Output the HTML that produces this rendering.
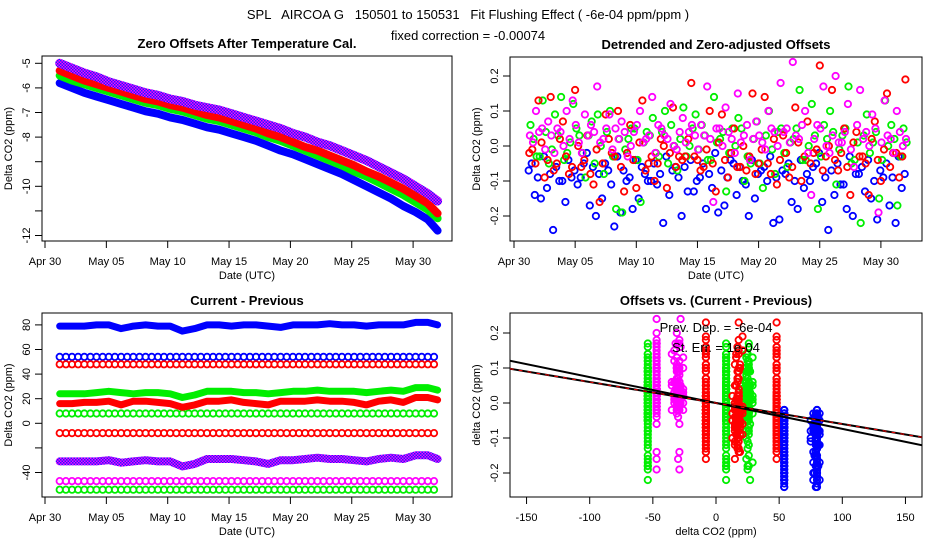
<!DOCTYPE html>
<html><head><meta charset="utf-8"><style>
body{margin:0;background:#fff}
svg{display:block;font-family:"Liberation Sans",sans-serif}
</style></head><body>
<svg id="c" width="936" height="540" viewBox="0 0 936 540">
<defs>
<pattern id="pp" width="3" height="3" patternUnits="userSpaceOnUse"><rect width="3" height="3" fill="#ff00ff"/><rect width="1.5" height="1.5" fill="#2020ff"/><rect x="1.5" y="1.5" width="1.5" height="1.5" fill="#2020ff"/></pattern>
<clipPath id="cp1"><rect x="42" y="56" width="410" height="185"/></clipPath>
<clipPath id="cp2"><rect x="510" y="57" width="412" height="184"/></clipPath>
<clipPath id="cp3"><rect x="42" y="313" width="410" height="184"/></clipPath>
<clipPath id="cp4"><rect x="510" y="313" width="412" height="184"/></clipPath>
</defs>
<text x="468" y="19" text-anchor="middle" font-size="13" style="white-space:pre">SPL   AIRCOA G   150501 to 150531   Fit Flushing Effect ( -6e-04 ppm/ppm )</text>
<text x="468" y="40" text-anchor="middle" font-size="13">fixed correction = -0.00074</text>
</svg>
<script>
// ---- data ----
const days1 = [1.2,2.2,3.2,4.2,5.2,6.2,7.2,8.2,9.2,10.2,11.2,12.2,13.2,14.2,15.2,16.2,17.2,18.2,19.2,20.2,21.2,22.2,23.2,24.2,25.2,26.2,27.2,28.2,29.2,30.2,31.2,32.0];
const offBlue = [-5.8,-6.0,-6.2,-6.35,-6.5,-6.65,-6.8,-6.95,-7.05,-7.2,-7.3,-7.45,-7.6,-7.7,-7.85,-8.0,-8.15,-8.35,-8.55,-8.7,-8.9,-9.1,-9.3,-9.5,-9.75,-10.0,-10.25,-10.5,-10.8,-11.05,-11.35,-11.8];
const offRed = [-5.3,-5.5,-5.7,-5.85,-6.0,-6.15,-6.3,-6.45,-6.55,-6.7,-6.8,-6.95,-7.1,-7.2,-7.35,-7.5,-7.65,-7.85,-8.0,-8.2,-8.4,-8.55,-8.75,-8.95,-9.15,-9.4,-9.6,-9.85,-10.1,-10.4,-10.7,-11.1];
const offGreen = [-5.5,-5.7,-5.85,-6.0,-6.15,-6.3,-6.45,-6.6,-6.7,-6.85,-6.95,-7.1,-7.25,-7.35,-7.5,-7.65,-7.8,-8.0,-8.15,-8.35,-8.55,-8.75,-8.95,-9.15,-9.4,-9.6,-9.85,-10.1,-10.35,-10.65,-10.95,-11.3];
const offPurple = [-5.0,-5.2,-5.4,-5.55,-5.75,-5.9,-6.05,-6.2,-6.3,-6.45,-6.55,-6.7,-6.8,-6.9,-7.05,-7.2,-7.35,-7.5,-7.65,-7.85,-8.0,-8.2,-8.35,-8.55,-8.75,-8.95,-9.2,-9.45,-9.7,-10.0,-10.3,-10.6];
const cpBlue = [79,79,79,80,80,77,79,80,79,79,75,77,80,80,79,80,80,79,78,80,80,80,81,80,80,79,80,80,80,82,82,80];
const cpGreen = [24,24,24,25,26,25,24,25,25,24,21,23,26,26,26,25,25,24,25,26,26,27,26,26,26,25,26,27,26,29,29,27];
const cpRed = [16,16,17,17,18,15,18,18,17,16,13,15,18,18,19,17,16,15,18,18,18,19,18,18,17,15,18,19,17,21,21,19];
const cpPurple = [-31,-31,-31,-31,-30,-32,-31,-30,-31,-31,-35,-33,-29,-29,-29,-30,-31,-33,-30,-30,-29,-28,-29,-29,-30,-31,-29,-28,-29,-26,-26,-29];
const cpConstValues = [54,48,8,-8,-47,-54];
const cpConstColors = ['blue','red','green','red','purple','green'];
const days2 = [];
for (let i=0;i<62;i++) days2.push(1.2+i*0.5);
const dtBlue = [-0.07,-0.14,-0.15,-0.12,-0.24,-0.10,-0.16,-0.09,-0.11,-0.05,-0.17,-0.20,-0.15,-0.07,-0.23,-0.19,-0.10,-0.18,-0.15,-0.08,-0.10,-0.11,-0.22,-0.14,-0.06,-0.20,-0.13,-0.13,-0.09,-0.18,-0.12,-0.19,-0.17,-0.04,-0.14,-0.10,-0.20,-0.15,-0.07,-0.10,-0.22,-0.21,-0.08,-0.16,-0.18,-0.12,-0.10,-0.05,-0.16,-0.24,-0.14,-0.11,-0.18,-0.20,-0.08,-0.13,-0.15,-0.21,-0.09,-0.17,-0.22,-0.12];
const dtRed = [-0.01,0.13,-0.09,0.14,-0.05,0.07,-0.08,0.16,-0.06,0.03,-0.11,-0.16,0.09,-0.02,0.10,-0.13,0.06,-0.12,0.13,-0.05,-0.10,0.02,-0.12,0.11,-0.03,-0.03,0.18,-0.04,-0.06,0.10,-0.13,0.09,-0.09,0.05,-0.06,-0.07,0.15,-0.05,0.14,-0.08,-0.11,0.03,-0.09,0.11,-0.10,0.07,-0.02,0.23,-0.03,0.16,-0.07,0.05,-0.14,0.04,-0.03,-0.14,0.07,-0.10,0.15,-0.02,-0.09,0.19];
const dtGreen = [0.06,-0.03,0.13,-0.05,0.09,0.14,-0.02,0.12,0.03,-0.09,0.07,0.09,-0.08,0.10,-0.18,-0.19,0.02,0.05,-0.16,0.04,0.08,-0.03,0.10,0.06,-0.07,0.11,0.00,0.09,0.06,-0.04,0.14,0.02,-0.13,0.05,0.08,-0.10,-0.05,0.07,-0.12,0.10,-0.08,0.05,-0.06,0.02,0.16,-0.04,0.12,-0.18,0.06,0.10,-0.11,0.03,0.17,-0.04,-0.22,0.09,0.01,-0.15,0.13,0.06,-0.17,0.05];
const dtPurple = [0.03,0.10,0.05,0.07,-0.02,0.04,0.10,0.13,0.01,0.09,0.06,0.17,0.02,0.09,0.05,0.07,-0.03,0.04,0.10,0.02,0.14,0.06,0.03,0.12,-0.01,0.08,0.04,0.03,0.06,0.17,-0.16,0.05,0.11,0.02,0.15,0.03,-0.04,0.07,0.01,0.10,0.04,0.18,0.05,0.24,0.02,0.10,-0.14,0.06,0.17,-0.02,0.20,0.01,0.12,-0.06,0.16,0.04,0.09,-0.19,0.13,0.02,0.10,0.00];
const dtBlue2 = [-0.05,-0.09,-0.03,-0.08,-0.06,-0.10,-0.04,-0.07,-0.09,-0.02,-0.06,-0.08,-0.05,-0.11,-0.03,-0.07,-0.09,-0.04,-0.06,-0.10,-0.05,-0.08,-0.03,-0.07,-0.09,-0.06,-0.04,-0.10,-0.05,-0.08,-0.02,-0.07,-0.09,-0.05,-0.06,-0.11,-0.04,-0.08,-0.06,-0.03,-0.09,-0.07,-0.05,-0.10,-0.04,-0.08,-0.06,-0.02,-0.09,-0.07,-0.05,-0.11,-0.03,-0.08,-0.06,-0.04,-0.10,-0.07,-0.05,-0.09,-0.03,-0.08];
const dtRed2 = [-0.02,-0.05,0.01,-0.04,-0.07,0.02,-0.03,-0.06,0.00,-0.04,-0.08,-0.01,-0.05,0.02,-0.03,-0.06,-0.02,-0.04,0.01,-0.07,-0.03,-0.05,0.00,-0.02,-0.06,-0.04,0.02,-0.03,-0.07,-0.01,-0.05,0.01,-0.04,-0.02,-0.06,0.00,-0.03,-0.08,-0.01,-0.05,0.02,-0.04,-0.02,-0.06,0.01,-0.03,-0.05,-0.01,-0.07,0.00,-0.04,-0.02,-0.06,0.01,-0.03,-0.05,0.02,-0.04,-0.01,-0.06,-0.02,-0.03];
const dtGreen2 = [0.02,-0.03,0.04,-0.01,0.03,-0.04,0.01,0.05,-0.02,0.03,-0.05,0.00,0.04,-0.03,0.02,-0.01,0.05,-0.04,0.01,0.03,-0.02,0.04,-0.05,0.00,0.02,-0.03,0.05,-0.01,0.03,-0.04,0.01,0.04,-0.02,0.00,0.05,-0.03,0.02,-0.05,0.03,-0.01,0.04,-0.02,0.01,0.05,-0.04,0.00,0.03,-0.03,0.02,0.04,-0.01,0.05,-0.05,0.01,0.03,-0.02,0.04,-0.04,0.00,0.02,-0.03,0.01];
const dtPurple2 = [0.01,0.04,-0.01,0.03,0.05,0.00,0.02,0.06,-0.02,0.03,0.04,0.01,0.05,-0.01,0.02,0.04,0.00,0.06,0.01,0.03,-0.02,0.05,0.02,0.00,0.04,0.01,0.06,-0.01,0.03,0.02,0.05,0.00,0.04,-0.02,0.01,0.06,0.02,0.03,-0.01,0.05,0.00,0.04,0.01,0.03,0.06,-0.02,0.02,0.05,0.00,0.03,0.01,0.04,-0.01,0.06,0.02,0.00,0.05,0.01,0.03,-0.02,0.04,0.02];
const fitSlopes = [-0.00074,-0.0006];
const dateTicks = [0,5,10,15,20,25,30];
const dateLabels = ['Apr 30','May 05','May 10','May 15','May 20','May 25','May 30'];
const p1Ticks = [-5,-6,-7,-8,-9,-10,-11,-12];
const p1Labels = ['-5','-6','-7','-8','','-10','','-12'];
const p2Ticks = [0.2,0.1,0.0,-0.1,-0.2];
const p2Labels = ['0.2','0.1','0.0','-0.1','-0.2'];
const p3Ticks = [80,60,40,20,0,-20,-40];
const p3Labels = ['80','60','40','20','0','','-40'];
const p4XTicks = [-150,-100,-50,0,50,100,150];
const p4XLabels = ['-150','-100','-50','0','50','100','150'];

// ---- helpers ----
const svg = document.getElementById('c');
const NS = 'http://www.w3.org/2000/svg';
const COL = {blue:'#0000ff', red:'#ff0000', green:'#00ee00', purple:'url(#pp)', purpleLine:'#ff00ff'};
function mk(tag, attrs, parent){ const e=document.createElementNS(NS,tag); for(const k in attrs) e.setAttribute(k,attrs[k]); (parent||svg).appendChild(e); return e; }

const x1 = d => 45 + d*12.27;
const y1 = v => 63.3 + (-5 - v)*24.6;
const x2 = d => 514 + d*12.23;
const y2 = v => 146 - v*350;
const y3 = v => 423.3 - v*1.23;
const x4 = v => 716 + v*1.263;
const y4 = v => 403 - v*350;

function frame(name, bx, by, bw, bh, title, xlab, ylab, xt, xl, xs, yt, yl, ys){
  const g = mk('g',{});
  
  
  const r = mk('rect',{x:bx,y:by,width:bw,height:bh,fill:'none',stroke:'#000','stroke-width':1},g);
  
  
  const t = mk('text',{x:bx+bw/2,y:by-8,'text-anchor':'middle','font-size':13,'font-weight':'bold'},g);
  t.textContent = title;
  
  
  const xa = mk('g',{},g);
  
  
  mk('line',{x1:xs(xt[0]),x2:xs(xt[xt.length-1]),y1:by+bh,y2:by+bh,stroke:'#000'},xa);
  xt.forEach((v,i)=>{
    const X = xs(v);
    mk('line',{x1:X,x2:X,y1:by+bh,y2:by+bh+7,stroke:'#000'},xa);
    const tl = mk('text',{x:X,y:by+bh+24,'text-anchor':'middle','font-size':11},xa);
    tl.textContent = xl[i];
    
    
  });
  const xtt = mk('text',{x:bx+bw/2,y:by+bh+38,'text-anchor':'middle','font-size':11},g);
  xtt.textContent = xlab;
  
  
  const ya = mk('g',{},g);
  
  
  yt.forEach((v,i)=>{
    const Y = ys(v);
    mk('line',{x1:bx-7,x2:bx,y1:Y,y2:Y,stroke:'#000'},ya);
    if(yl[i]){
      const tl = mk('text',{x:0,y:0,'text-anchor':'middle','font-size':11,transform:`translate(${bx-12},${Y}) rotate(-90)`},ya);
      tl.textContent = yl[i];
      
      
    }
  });
  const ytt = mk('text',{x:0,y:0,'text-anchor':'middle','font-size':11,transform:`translate(${bx-30},${by+bh/2}) rotate(-90)`},g);
  ytt.textContent = ylab;
  
  
  return g;
}
function line(parent, xs, ys, color, w, name, dash){
  const p = mk('path',{d:xs.map((x,i)=>(i?'L':'M')+x.toFixed(1)+' '+ys[i].toFixed(1)).join(''),fill:'none',stroke:color,'stroke-width':w,'stroke-linejoin':'round','stroke-linecap':'round'},parent);
  if(dash) p.setAttribute('stroke-dasharray',dash);
  
  
}
function pt(parent, X, Y, color, name){
  const c = mk('circle',{cx:X.toFixed(1),cy:Y.toFixed(1),r:3.2,fill:'none',stroke:color,'stroke-width':1.8},parent);
  
  
}

// ---- panel 1 ----
frame('zero-offsets-panel',42,56,410,185,'Zero Offsets After Temperature Cal.','Date (UTC)','Delta CO2 (ppm)',dateTicks,dateLabels,x1,p1Ticks,p1Labels,y1);
const g1 = mk('g',{'clip-path':'url(#cp1)'});


line(g1, days1.map(x1), offBlue.map(y1), COL.blue, 8, 'offset-line-blue');
line(g1, days1.map(x1), offGreen.map(y1), COL.green, 8, 'offset-line-green');
line(g1, days1.map(x1), offRed.map(y1), COL.red, 8, 'offset-line-red');
line(g1, days1.map(x1), offPurple.map(y1), COL.purple, 9, 'offset-line-purple');

// ---- panel 2 ----
frame('detrended-panel',510,57,412,184,'Detrended and Zero-adjusted Offsets','Date (UTC)','Delta CO2 (ppm)',dateTicks,dateLabels,x2,p2Ticks,p2Labels,y2);
const g2 = mk('g',{'clip-path':'url(#cp2)'});


[[dtBlue,COL.blue,'blue',0],[dtBlue2,COL.blue,'blue',0.25],[dtGreen,COL.green,'green',0.15],[dtGreen2,COL.green,'green',0.4],[dtRed,COL.red,'red',0.3],[dtRed2,COL.red,'red',0.05],[dtPurple,COL.purpleLine,'purple',0.1],[dtPurple2,COL.purpleLine,'purple',0.35]].forEach(([arr,c,n,off])=>{
  arr.forEach((v,i)=>pt(g2, x2(days2[i]+off), y2(v), c, 'detrended-point-'+n));
});

// ---- panel 3 ----
frame('current-previous-panel',42,313,410,184,'Current - Previous','Date (UTC)','Delta CO2 (ppm)',dateTicks,dateLabels,x1,p3Ticks,p3Labels,y3);
const g3 = mk('g',{'clip-path':'url(#cp3)'});


cpConstValues.forEach((v,k)=>{
  const c = cpConstColors[k]==='purple'?COL.purpleLine:COL[cpConstColors[k]];
  days2.forEach(d=>pt(g3, x1(d), y3(v), c, 'constant-point-'+cpConstColors[k]));
});
line(g3, days1.map(x1), cpBlue.map(y3), COL.blue, 7, 'diff-line-blue');
line(g3, days1.map(x1), cpGreen.map(y3), COL.green, 7, 'diff-line-green');
line(g3, days1.map(x1), cpRed.map(y3), COL.red, 7, 'diff-line-red');
line(g3, days1.map(x1), cpPurple.map(y3), COL.purple, 8, 'diff-line-purple');

// ---- panel 4 ----
frame('offsets-vs-diff-panel',510,313,412,184,'Offsets vs. (Current - Previous)','delta CO2 (ppm)','delta CO2 (ppm)',p4XTicks,p4XLabels,x4,p2Ticks,p2Labels,y4);
const g4 = mk('g',{'clip-path':'url(#cp4)'});


[dtGreen,dtGreen2].forEach(arr=>arr.forEach((v,i)=>{ pt(g4,x4(-54),y4(v),COL.green,'scatter-green'); pt(g4,x4(8),y4(v),COL.green,'scatter-green'); pt(g4,x4(cpGreen[Math.floor(i/2)]),y4(v),COL.green,'scatter-green'); }));
[dtPurple,dtPurple2].forEach(arr=>arr.forEach((v,i)=>{ pt(g4,x4(-47),y4(v),COL.purpleLine,'scatter-purple'); pt(g4,x4(cpPurple[Math.floor(i/2)]),y4(v),COL.purpleLine,'scatter-purple'); }));
[dtRed,dtRed2].forEach(arr=>arr.forEach((v,i)=>{ pt(g4,x4(-8),y4(v),COL.red,'scatter-red'); pt(g4,x4(48),y4(v),COL.red,'scatter-red'); pt(g4,x4(cpRed[Math.floor(i/2)]),y4(v),COL.red,'scatter-red'); }));
[dtBlue,dtBlue2].forEach(arr=>arr.forEach((v,i)=>{ pt(g4,x4(54),y4(v),COL.blue,'scatter-blue'); pt(g4,x4(cpBlue[Math.floor(i/2)]),y4(v),COL.blue,'scatter-blue'); }));
const fx = [-170,170];
line(g4, fx.map(x4), fx.map(v=>y4(v*fitSlopes[0])), '#000', 2, 'fixed-correction-line');
line(g4, fx.map(x4), fx.map(v=>y4(v*fitSlopes[1])), '#000', 2, 'fit-line');
line(g4, fx.map(x4), fx.map(v=>y4(v*fitSlopes[1])), '#ff0000', 1, 'fit-line-dashed', '3 6');
const a1 = mk('text',{x:716,y:332,'text-anchor':'middle','font-size':13});
a1.textContent = 'Prev. Dep. =  -6e-04';


const a2 = mk('text',{x:716,y:352,'text-anchor':'middle','font-size':13});
a2.textContent = 'St. Err. =  1e-04';


</script>
</body></html>
